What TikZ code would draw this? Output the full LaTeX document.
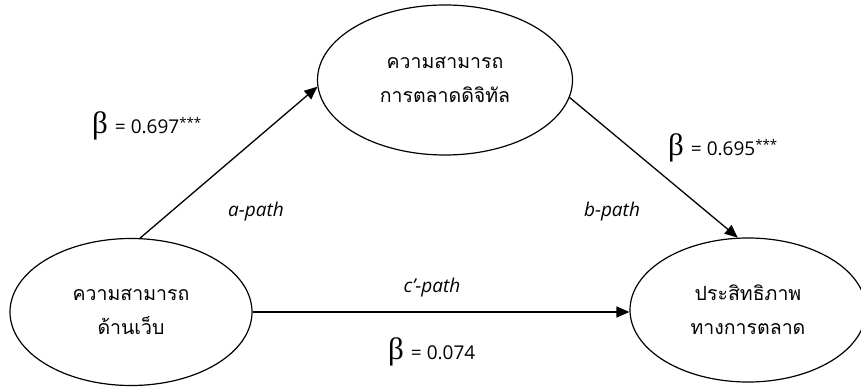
\documentclass[tikz,border=0pt]{standalone}
\usepackage{fontspec}
\setmainfont{Open Sans}
\newfontfamily\thaifont[Script=Thai]{Loma}
\newfontfamily\betafont{Liberation Serif}
\usetikzlibrary{shapes.geometric,arrows.meta,positioning}
\tikzset{
    construct/.style={draw=black, ellipse, line width=1.2pt, inner sep=0pt, align=center,
        font=\thaifont\fontsize{19.5}{34}\selectfont},
    effect/.style={draw=black, line width=1.3pt, -{Triangle[length=13pt,width=11pt]}},
    pathname/.style={font=\itshape\fontsize{19}{22}\selectfont},
    coeff/.style={anchor=west, inner sep=0pt, font=\fontsize{19}{22}\selectfont},
}
\newcommand{\bcoef}[1]{{\betafont\fontsize{31}{31}\selectfont β}\hspace{7pt}= #1}

\begin{document}
\begin{tikzpicture}[x=1pt, y=-1pt]
	\useasboundingbox (0,0) rectangle (861,387);
	% the three constructs
	\node[construct, minimum width=242pt, minimum height=147pt] (web) at (131,312) {ความสามารถ\\ด้านเว็บ};
	\node[construct, minimum width=255pt, minimum height=150pt] (digital) at (445,80) {ความสามารถ\\การตลาดดิจิทัล};
	\node[construct, minimum width=236pt, minimum height=144pt] (perf) at (748,310) {ประสิทธิภาพ\\ทางการตลาด};
	%
	\draw[effect] (web.83) -- (digital.183);
	\draw[effect] (digital.-8) -- (perf.98);
	\draw[effect] (web.east) -- (web.east -| perf.west);
	%
	\node[pathname] (apath) at (256,212) {a-path};
	\node[pathname] (bpath) at (612,212) {b-path};
	\node[pathname] (cpath) at (432,288) {c’-path};
	%
	\node[coeff] (acoef) at (92,126) {\bcoef{0.697\textsuperscript{***}}};
	\node[coeff] (bcoef) at (668,148) {\bcoef{0.695\textsuperscript{***}}};
	\node[coeff] (ccoef) at (388,352) {\bcoef{0.074}};
\end{tikzpicture}
\end{document}
